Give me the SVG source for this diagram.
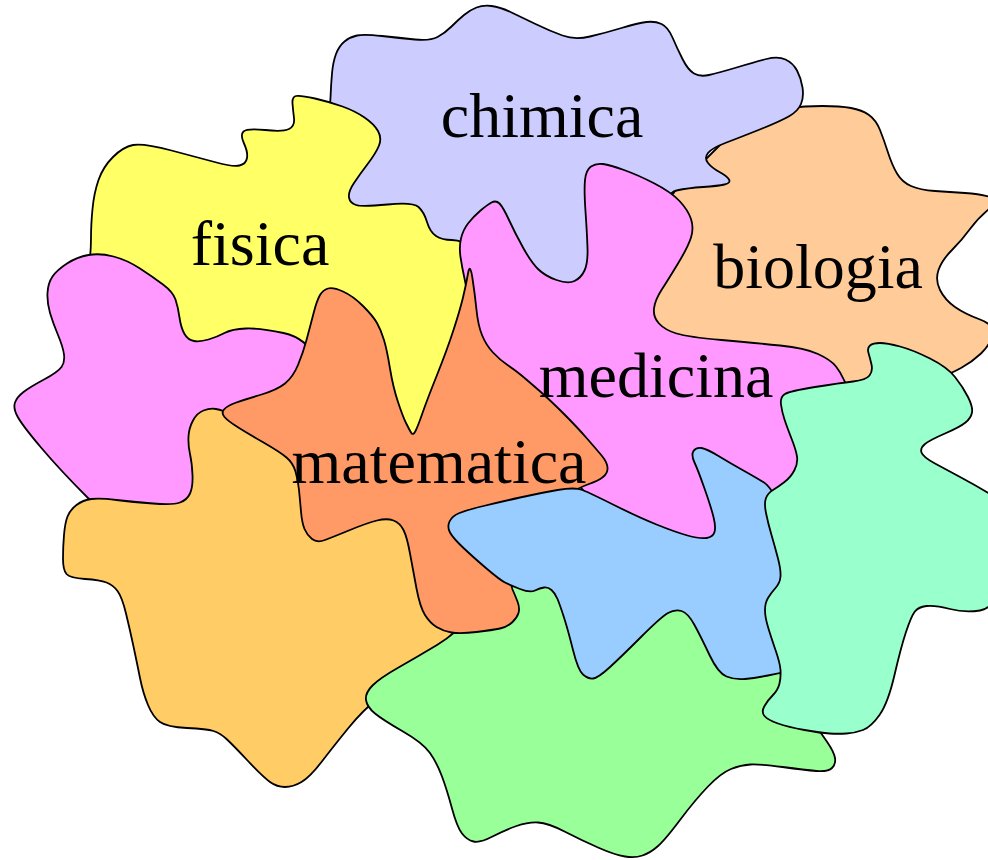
<svg xmlns="http://www.w3.org/2000/svg" width="988" height="860" viewBox="0 0 988 860">
<style>
.b{stroke:#000;stroke-width:1.8;stroke-linejoin:round}
.t{font-family:"Liberation Serif","Times New Roman",serif;font-size:64px;fill:#000;text-anchor:middle}
</style>
<rect width="988" height="860" fill="#fff"/>
<g id="biologia"><path class="b" fill="#ffcc99" d="M720,145 Q740,125 755,117.5 Q770,110 787.5,108 Q805,106 822.5,106 Q840,106 851,108 Q862,110 869,115 Q876,120 880,130 Q884,140 888,152.5 Q892,165 897,173.5 Q902,182 911,186 Q920,190 935,191 Q950,192 965,193 Q980,194 990,197 Q1000,200 989,209 Q978,218 970,229 Q962,240 952,250 Q942,260 938.5,270 Q935,280 940,290 Q945,300 955,307 Q965,314 980,319.5 Q995,325 992.5,335 Q990,345 981,353.5 Q972,362 961,368 Q950,374 930,382 Q910,390 870,392.5 Q830,395 795,382.5 Q760,370 720,365 Q680,360 660,335 Q640,310 645,280 Q650,250 657.5,225 Q665,200 682.5,182.5 Q700,165 720,145 Z"/></g>
<g id="chimica"><path class="b" fill="#ccccff" d="M327.5,117.5 Q330,110 330.5,97.5 Q331,85 332,73.5 Q333,62 336,54 Q339,46 344.5,41.5 Q350,37 357,35.5 Q364,34 382,36 Q400,38 415,39.5 Q430,41 437.5,37 Q445,33 451.5,26.5 Q458,20 464,15 Q470,10 476.5,7.5 Q483,5 491.5,6 Q500,7 510.5,12 Q521,17 535.5,24 Q550,31 562.5,35.5 Q575,40 590,36.5 Q605,33 621.5,28 Q638,23 646.5,22 Q655,21 661.5,24 Q668,27 672.5,37.5 Q677,48 682.5,59 Q688,70 694,73.5 Q700,77 709,75 Q718,73 736.5,67.5 Q755,62 766.5,59 Q778,56 785.5,59.5 Q793,63 797,70.5 Q801,78 802.5,87.5 Q804,97 801,104 Q798,111 789.5,116 Q781,121 761,129 Q741,137 726.5,142.5 Q712,148 708,153 Q704,158 708,163 Q712,168 719.5,172 Q727,176 729,179.5 Q731,183 724.5,184.5 Q718,186 703,187 Q688,188 676.5,190.5 Q665,193 662.5,221.5 Q660,250 630,275 Q600,300 560,300 Q520,300 495,285 Q470,270 435,260 Q400,250 370,242.5 Q340,235 329,202.5 Q318,170 321.5,147.5 Q325,125 327.5,117.5 Z"/></g>
<g id="fisica"><path class="b" fill="#ffff66" d="M104,287.5 Q88,275 89.5,262.5 Q91,250 91,237.5 Q91,225 92.5,209 Q94,193 98.5,180 Q103,167 113,157 Q123,147 133,145 Q143,143 171.5,150.5 Q200,158 216.5,162.5 Q233,167 239.5,165.5 Q246,164 247,158 Q248,152 244,143.5 Q240,135 243.5,131.5 Q247,128 265,130 Q283,132 289,129 Q295,126 294,118 Q293,110 292.5,103.5 Q292,97 296,96 Q300,95 315,98.5 Q330,102 342.5,106.5 Q355,111 364.5,117.5 Q374,124 378,131 Q382,138 379,145.5 Q376,153 368,163.5 Q360,174 354,183 Q348,192 349,197.5 Q350,203 356,205 Q362,207 387.5,204.5 Q413,202 418.5,207 Q424,212 427,222 Q430,232 436,236 Q442,240 452,240 Q462,240 478.5,250 Q495,260 497.5,295 Q500,330 490,365 Q480,400 440,427.5 Q400,455 350,430 Q300,405 280,387.5 Q260,370 225,365 Q190,360 155,330 Q120,300 104,287.5 Z"/></g>
<g id="sinistra"><path class="b" fill="#ff99ff" d="M67,263.5 Q77,257 88.5,255 Q100,253 113.5,256.5 Q127,260 140,268.5 Q153,277 163,284.5 Q173,292 175.5,299.5 Q178,307 179.5,317.5 Q181,328 184.5,334 Q188,340 194,341 Q200,342 208.5,339.5 Q217,337 224.5,333 Q232,329 246,328.5 Q260,328 283.5,333 Q307,338 318.5,361.5 Q330,385 290,402.5 Q250,420 232.5,445 Q215,470 187.5,510 Q160,550 137.5,537.5 Q115,525 87.5,497.5 Q60,470 41,447.5 Q22,425 17.5,416.5 Q13,408 15,402.5 Q17,397 23.5,392 Q30,387 44,379.5 Q58,372 61.5,367 Q65,362 64,354.5 Q63,347 58,335 Q53,323 50,313 Q47,303 47.5,293 Q48,283 52.5,276.5 Q57,270 67,263.5 Z"/></g>
<g id="basso-sinistra"><path class="b" fill="#ffcc66" d="M235,415.5 Q222,410 216,409 Q210,408 203.5,410.5 Q197,413 193,420.5 Q189,428 188.5,436.5 Q188,445 190,454 Q192,463 192.5,475 Q193,487 190,493.5 Q187,500 180,502.5 Q173,505 153,503.5 Q133,502 116.5,500 Q100,498 91.5,499 Q83,500 76.5,505 Q70,510 67.5,516.5 Q65,523 64,535 Q63,547 63,558.5 Q63,570 66.5,574 Q70,578 85,579 Q100,580 106.5,582.5 Q113,585 117.5,591 Q122,597 126,613.5 Q130,630 133.5,646.5 Q137,663 140,678 Q143,693 148,705 Q153,717 160,722 Q167,727 187,728 Q207,729 213.5,731 Q220,733 226.5,739 Q233,745 248,761 Q263,777 270,782 Q277,787 285,787 Q293,787 301.5,782 Q310,777 321.5,762 Q333,747 348,728.5 Q363,710 379,697.5 Q395,685 432.5,667.5 Q470,650 457.5,625 Q445,600 435,565 Q425,530 382.5,512.5 Q340,495 322.5,481.5 Q305,468 276.5,444.5 Q248,421 235,415.5 Z"/></g>
<g id="basso"><path class="b" fill="#99ff99" d="M468.5,616.5 Q457,633 437,645 Q417,657 398.5,667.5 Q380,678 372.5,685.5 Q365,693 366,700 Q367,707 375,713.5 Q383,720 403,731.5 Q423,743 430,753 Q437,763 442,776.5 Q447,790 452,808.5 Q457,827 462,833.5 Q467,840 473.5,841.5 Q480,843 492.5,836.5 Q505,830 516.5,826 Q528,822 538,822.5 Q548,823 564.5,831.5 Q581,840 598,847.5 Q615,855 625,856.5 Q635,858 642.5,855.5 Q650,853 657.5,846.5 Q665,840 680,820 Q695,800 708,786.5 Q721,773 731,769 Q741,765 750.5,764.5 Q760,764 782.5,767 Q805,770 816.5,771 Q828,772 832,768 Q836,764 835,758 Q834,752 827.5,742.5 Q821,733 805.5,711.5 Q790,690 775,665 Q760,640 720,610 Q680,580 635,590 Q590,600 560,580 Q530,560 505,580 Q480,600 468.5,616.5 Z"/></g>
<g id="medicina"><path class="b" fill="#ff99ff" d="M464.5,278.5 Q462,267 460.5,257 Q459,247 461,238.5 Q463,230 468,223.5 Q473,217 480,211 Q487,205 491.5,202.5 Q496,200 499.5,203.5 Q503,207 509,220 Q515,233 523,247.5 Q531,262 538,269 Q545,276 556.5,280 Q568,284 574.5,281 Q581,278 584.5,270.5 Q588,263 587.5,248 Q587,233 585.5,211.5 Q584,190 585,180 Q586,170 591,166.5 Q596,163 603,164 Q610,165 624,170 Q638,175 654.5,183.5 Q671,192 679.5,201 Q688,210 691,219 Q694,228 691,237.5 Q688,247 678,263.5 Q668,280 661.5,290 Q655,300 654,308.5 Q653,317 659,323.5 Q665,330 676.5,333.5 Q688,337 721.5,340 Q755,343 780,345.5 Q805,348 818,354 Q831,360 836,366.5 Q841,373 843.5,379 Q846,385 863,407.5 Q880,430 835,475 Q790,520 755,540 Q720,560 680,555 Q640,550 620,530 Q600,510 570,475 Q540,440 510,410 Q480,380 476,350 Q472,320 469.5,305 Q467,290 464.5,278.5 Z"/></g>
<g id="matematica"><path class="b" fill="#ff9966" d="M468,273.5 Q470,262 472.5,278.5 Q475,295 476.5,310 Q478,325 482,335 Q486,345 493,352.5 Q500,360 507.5,365 Q515,370 521,375 Q527,380 538.5,390 Q550,400 563.5,413.5 Q577,427 587,438.5 Q597,450 602,456 Q607,462 607.5,467.5 Q608,473 603,477 Q598,481 589,484 Q580,487 560,498.5 Q540,510 527.5,535 Q515,560 512.5,572 Q510,584 512.5,589.5 Q515,595 517.5,601.5 Q520,608 518.5,613 Q517,618 512,622.5 Q507,627 500,628.5 Q493,630 476.5,632 Q460,634 451.5,632.5 Q443,631 436.5,627 Q430,623 425,615 Q420,607 416.5,588.5 Q413,570 410,553.5 Q407,537 403.5,530 Q400,523 393.5,520.5 Q387,518 377,520.5 Q367,523 350,530 Q333,537 325,540 Q317,543 312,539 Q307,535 304.5,529 Q302,523 301,511.5 Q300,500 299,490 Q298,480 295.5,471.5 Q293,463 286.5,457.5 Q280,452 263.5,442.5 Q247,433 237.5,427 Q228,421 224.5,417 Q221,413 224,409.5 Q227,406 235,403 Q243,400 260,395 Q277,390 285,383.5 Q293,377 298,365 Q303,353 306.5,340 Q310,327 313.5,313.5 Q317,300 320,295 Q323,290 328,288.5 Q333,287 343,291.5 Q353,296 363,306 Q373,316 377,323 Q381,330 384,340 Q387,350 390,368.5 Q393,387 398,402 Q403,417 406,423 Q409,429 411,432.5 Q413,436 415.5,431 Q418,426 422.5,413 Q427,400 437,375 Q447,350 453.5,330 Q460,310 463,297.5 Q466,285 468,273.5 Z"/></g>
<g id="centro-basso"><path class="b" fill="#99ccff" d="M450,532.5 Q447,527 449.5,521.5 Q452,516 459.5,513 Q467,510 483.5,506 Q500,502 520,497.5 Q540,493 557.5,490 Q575,487 582.5,490 Q590,493 614,505 Q638,517 656.5,524.5 Q675,532 687.5,535.5 Q700,539 706.5,538 Q713,537 714.5,532 Q716,527 713.5,517 Q711,507 704.5,488.5 Q698,470 694.5,462.5 Q691,455 693.5,451 Q696,447 701.5,448 Q707,449 718.5,456 Q730,463 742.5,470 Q755,477 764,482.5 Q773,488 789,524 Q805,560 802.5,614 Q800,668 790.5,670.5 Q781,673 768,675.5 Q755,678 745,679 Q735,680 726.5,676.5 Q718,673 709.5,655 Q701,637 694.5,625 Q688,613 681.5,611 Q675,609 668,613 Q661,617 641,637 Q621,657 609.5,667.5 Q598,678 593,678.5 Q588,679 583,674.5 Q578,670 573,650 Q568,630 564,617.5 Q560,605 557.5,599 Q555,593 551.5,590 Q548,587 544,587.5 Q540,588 535,590.5 Q530,593 520,589 Q510,585 505,582.5 Q500,580 486.5,568.5 Q473,557 463,547.5 Q453,538 450,532.5 Z"/></g>
<g id="destra"><path class="b" fill="#99ffcc" d="M781,404.5 Q780,397 785,394 Q790,391 815,387 Q840,383 853,381.5 Q866,380 869.5,375.5 Q873,371 871.5,364.5 Q870,358 868.5,353 Q867,348 870,345.5 Q873,343 880,343 Q887,343 900,346.5 Q913,350 930,358.5 Q947,367 955,377 Q963,387 968,397 Q973,407 972,412.5 Q971,418 965.5,422.5 Q960,427 945,433.5 Q930,440 925,444 Q920,448 921.5,452.5 Q923,457 935,463.5 Q947,470 961,477.5 Q975,485 987.5,492.5 Q1000,500 1002.5,530 Q1005,560 1000,584 Q995,608 980,610.5 Q965,613 950,609 Q935,605 926.5,606 Q918,607 914.5,612 Q911,617 906,632 Q901,647 894.5,675 Q888,703 879.5,715 Q871,727 863,730 Q855,733 846.5,733.5 Q838,734 829.5,733.5 Q821,733 804.5,730 Q788,727 778,723.5 Q768,720 764.5,716 Q761,712 764.5,706 Q768,700 773,695 Q778,690 779.5,683.5 Q781,677 780.5,670 Q780,663 775.5,650 Q771,637 768,627 Q765,617 765,610 Q765,603 768,598 Q771,593 775.5,588 Q780,583 780.5,576.5 Q781,570 778,558.5 Q775,547 771.5,535 Q768,523 766,513 Q764,503 766,498 Q768,493 773,490 Q778,487 784.5,482 Q791,477 794.5,470 Q798,463 797,456.5 Q796,450 791.5,438.5 Q787,427 784.5,419.5 Q782,412 781,404.5 Z"/></g>
<g id="etichette">
<text class="t" x="542" y="137">chimica</text>
<text class="t" x="260" y="265">fisica</text>
<text class="t" x="818" y="288">biologia</text>
<text class="t" x="656" y="397">medicina</text>
<text class="t" x="439" y="483">matematica</text>
</g>
</svg>
